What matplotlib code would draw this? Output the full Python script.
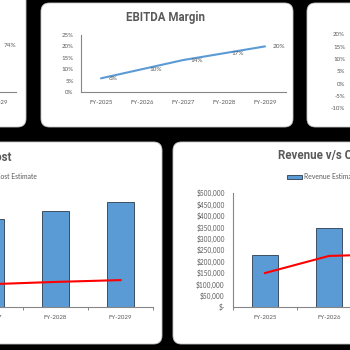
import matplotlib
matplotlib.use('Agg')
import matplotlib.pyplot as plt
from matplotlib.patches import FancyBboxPatch, Patch
from matplotlib.lines import Line2D
from matplotlib.ticker import FuncFormatter, MultipleLocator, FixedLocator

# ---------------- data ----------------
years = ['FY-2025', 'FY-2026', 'FY-2027', 'FY-2028', 'FY-2029']
ebitda_margin = [0.06, 0.10, 0.14, 0.17, 0.20]
gross_margin_labels = {'FY-2029': 0.74}          # only label visible at crop edge
# bottom-left chart: only FY-2027..FY-2029 are inside the crop
left_idx = [2, 3, 4]
left_revenue = [386000, 421000, 460000]
left_cost = [100000, 110000, 118000]
# bottom-right chart: FY-2025, FY-2026 bars, cost line runs on to FY-2027
right_rev_idx = [0, 1]
right_revenue = [228000, 346000]
right_cost_idx = [0, 1, 2]
right_cost = [149000, 224000, 232000]
pct_ticks_top = [0, 0.05, 0.10, 0.15, 0.20, 0.25]
pct_ticks_right = [-0.10, -0.05, 0, 0.05, 0.10, 0.15, 0.20]

W = H = 350
GRAY = '#595959'
AX = '#868686'
BLUE = '#5B9BD5'
FONT = 'Lato'
TFONT = ['Roboto', 'DejaVu Sans']
plt.rcParams['font.family'] = [FONT, 'DejaVu Sans']

fig = plt.figure(figsize=(3.5, 3.5), dpi=100, facecolor='black')


def rect(x0, y0, x1, y1):
    return [x0 / W, 1 - y1 / H, (x1 - x0) / W, (y1 - y0) / H]


def panel(x0, y0, x1, y1):
    p = FancyBboxPatch((x0 / W, 1 - y1 / H), (x1 - x0) / W, (y1 - y0) / H,
                       boxstyle="round,pad=0,rounding_size=0.024",
                       transform=fig.transFigure, fc='white', ec='#C8C8C8',
                       lw=0.6, zorder=-5)
    fig.patches.append(p)


def ftext(x, y, s, **kw):
    fig.text(x / W, 1 - y / H, s, **kw)


panel(-30, -30, 26, 127)
panel(41, 3, 293, 127)
panel(307, 3, 390, 127)
panel(-30, 142, 162, 344)
panel(173, 142, 390, 344)


def style(ax, left=True):
    ax.set_facecolor('none')
    ax.set_zorder(2)
    for s in ['top', 'right']:
        ax.spines[s].set_visible(False)
    ax.spines['left'].set_visible(left)
    ax.spines['left'].set_color(AX)
    ax.spines['bottom'].set_color(AX)
    ax.spines['left'].set_linewidth(0.8)
    ax.spines['bottom'].set_linewidth(0.8)
    ax.tick_params(colors=GRAY, labelsize=4.4, length=0)
    ax.set_xlim(-0.5, len(years) - 0.5)
    ax.set_xticks(range(len(years)))
    ax.set_xticklabels(years)
    ax.tick_params(axis='x', pad=5.5)


pctfmt = FuncFormatter(lambda v, p: f'{v*100:.0f}%')

# ---- top-left (cut off) ----
ax = fig.add_axes(rect(-179, 35, 16, 92))
style(ax, left=False)
ax.set_ylim(0, 0.9)
ax.set_yticks([])
for yr, v in gross_margin_labels.items():
    i = years.index(yr)
    ax.annotate(f'{v*100:.0f}%', (i, v), xytext=(4.8, 0), textcoords='offset points',
                ha='left', va='center', fontsize=4.6, color=GRAY)

# ---- top-middle EBITDA margin ----
ax = fig.add_axes(rect(80.5, 35, 285.5, 92))
style(ax)
ax.set_ylim(0, 0.25)
ax.yaxis.set_major_locator(FixedLocator(pct_ticks_top))
ax.yaxis.set_major_formatter(pctfmt)
ax.tick_params(axis='y', pad=5)
ax.plot(range(len(years)), ebitda_margin, color=BLUE, lw=1.5, solid_capstyle='round')
for i, v in enumerate(ebitda_margin):
    ax.annotate(f'{v*100:.0f}%', (i, v), xytext=(5.5, 0), textcoords='offset points',
                ha='left', va='center', fontsize=4.6, color=GRAY)
ftext(165, 17, 'EBITDA Margin', ha='center', va='center', fontsize=8.3,
      fontweight='bold', color=GRAY, family=TFONT)

# ---- top-right (cut off) ----
ax = fig.add_axes(rect(352, 34.5, 600, 108.3))
style(ax, left=False)
ax.spines['bottom'].set_visible(False)
ax.set_xticks([])
ax.set_ylim(-0.10, 0.20)
ax.yaxis.set_major_locator(FixedLocator(pct_ticks_right))
ax.yaxis.set_major_formatter(pctfmt)
ax.tick_params(axis='y', pad=5)


def money(v, p):
    return '$-' if v == 0 else f'${v:,.0f}'


def barchart(ax, ridx, rev, cidx, cost):
    style(ax)
    ax.set_ylim(0, 500000)
    ax.yaxis.set_major_locator(MultipleLocator(50000))
    ax.yaxis.set_major_formatter(FuncFormatter(money))
    ax.tick_params(axis='y', pad=6, labelsize=4.7)
    ax.set_xticks([i + 0.5 for i in range(-1, len(years))], minor=True)
    ax.tick_params(axis='x', which='minor', length=2.2, color=AX, direction='out', width=0.7)
    ax.bar(ridx, rev, width=0.42, color=BLUE, edgecolor='#3D4F63', lw=0.7,
           label='Revenue Estimate', zorder=2)
    ax.plot(cidx, cost, color='#FF0000', lw=1.5, label='Cost Estimate', zorder=3)


legkw = dict(ncol=2, frameon=False, fontsize=4.9, labelcolor=GRAY,
             handlelength=2.2, handleheight=0.6, handletextpad=0.3,
             columnspacing=1.2, borderpad=0, borderaxespad=0)
h = [Patch(fc=BLUE, ec='#3D4F63', lw=0.7), Line2D([], [], color='#FF0000', lw=1.5)]

# ---- bottom-left (cut off) ----
ax = fig.add_axes(rect(-172, 193, 153, 307))
barchart(ax, left_idx, left_revenue, left_idx, left_cost)
ax.set_yticks([])
ax.spines['left'].set_visible(False)
ftext(11, 157, 'Revenue v/s Cost', ha='right', va='center', fontsize=8.3,
      fontweight='bold', color=GRAY, family=TFONT)
fig.legend(h, ['Revenue Estimate', 'Cost Estimate'], loc='center right',
           bbox_to_anchor=(37.5 / W, 1 - 177 / H), **legkw)

# ---- bottom-right ----
ax = fig.add_axes(rect(233, 193, 553, 307))
barchart(ax, right_rev_idx, right_revenue, right_cost_idx, right_cost)
ftext(278, 156, 'Revenue v/s Cost', ha='left', va='center', fontsize=8.3,
      fontweight='bold', color=GRAY, family=TFONT)
fig.legend(h, ['Revenue Estimate', 'Cost Estimate'], loc='center left',
           bbox_to_anchor=(287 / W, 1 - 177 / H), **legkw)

fig.savefig('out.png', dpi=100, facecolor='black')
